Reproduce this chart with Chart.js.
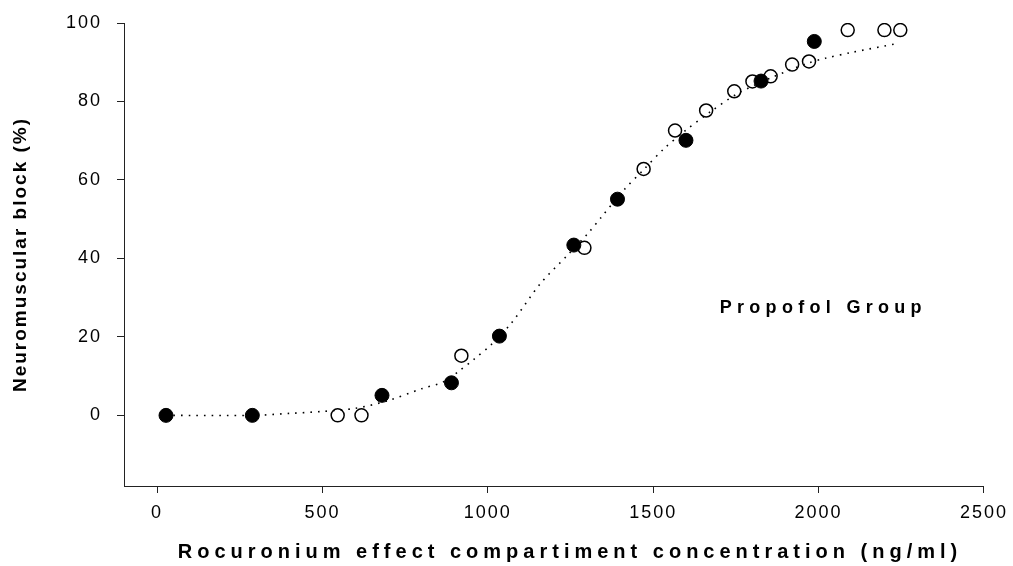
<!DOCTYPE html>
<html>
<head>
<meta charset="utf-8">
<script src="https://cdn.jsdelivr.net/npm/chart.js@4/dist/chart.umd.min.js"></script>
<style>
  html, body { margin: 0; padding: 0; background: #fff; }
  #c { display: block; }
</style>
</head>
<body>
<canvas id="c" width="1013" height="566"></canvas>
<script>
// Filled circles (measured block)
const filledX = [27, 288, 680, 890, 1035, 1260, 1392, 1599, 1826, 1987];
const filledY = [0, 0, 5.1, 8.3, 20.2, 43.4, 55.1, 70.1, 85.2, 95.3];
// Open circles
const openX = [546, 618, 920, 1292, 1471, 1566, 1660, 1745, 1800, 1855, 1920, 1971, 2088, 2199, 2247];
const openY = [0, 0, 15.2, 42.7, 62.8, 72.6, 77.7, 82.6, 85.1, 86.4, 89.4, 90.2, 98.2, 98.2, 98.2];
// Fitted dotted curve
const curveX = [27, 290, 400, 500, 600, 700, 800, 865, 913, 958, 1011, 1072, 1159, 1238, 1304, 1343, 1412, 1473, 1533, 1596, 1675, 1755, 1855, 1969, 2020, 2100, 2240];
const curveY = [0, 0, 0.5, 1.0, 1.8, 3.8, 6.8, 8.5, 11.3, 14.3, 18.1, 23.6, 33.6, 40.6, 46.5, 50.5, 57.5, 62.8, 68.0, 72.5, 77.5, 82.0, 86.0, 89.8, 91.0, 92.5, 94.8];
// Axes
const xTicks = [0, 500, 1000, 1500, 2000, 2500];
const yTicks = [0, 20, 40, 60, 80, 100];
const xTitle = 'Rocuronium effect compartiment concentration (ng/ml)';
const yTitle = 'Neuromuscular block (%)';
const groupLabel = 'Propofol Group';
const groupPos = [1701, 26];

const toPts = (xs, ys) => xs.map((x, i) => ({ x: x, y: ys[i] }));

const textPlugin = {
  id: 'textPlugin',
  beforeDraw(chart) {
    chart.ctx.letterSpacing = '2px';
  },
  afterDraw(chart) {
    const ctx = chart.ctx;
    const a = chart.chartArea;
    const xs = chart.scales.x, ys = chart.scales.y;
    ctx.save();
    ctx.fillStyle = '#000';
    ctx.font = 'bold 20px "Liberation Sans", Arial, sans-serif';
    ctx.letterSpacing = '5px';
    ctx.textAlign = 'center';
    ctx.textBaseline = 'alphabetic';
    ctx.fillText(xTitle, (a.left + a.right) / 2 + 16, 558);
    ctx.font = 'bold 18px "Liberation Sans", Arial, sans-serif';
    ctx.letterSpacing = '5.3px';
    ctx.textAlign = 'left';
    ctx.fillText(groupLabel, xs.getPixelForValue(groupPos[0]), ys.getPixelForValue(groupPos[1]));
    ctx.restore();
  }
};

const tickFont = { family: '"Liberation Sans", Arial, sans-serif', size: 18 };
const plain = (v) => String(v);

new Chart(document.getElementById('c'), {
  type: 'scatter',
  data: {
    datasets: [
      {
        label: 'filled',
        data: toPts(filledX, filledY),
        order: 0,
        pointRadius: 7,
        pointBackgroundColor: '#000',
        pointBorderColor: '#000',
        pointBorderWidth: 1
      },
      {
        label: 'open',
        data: toPts(openX, openY),
        order: 1,
        pointRadius: 6.5,
        pointBackgroundColor: 'rgba(255,255,255,0)',
        pointBorderColor: '#000',
        pointBorderWidth: 1.5
      },
      {
        label: 'fit',
        data: toPts(curveX, curveY),
        order: 2,
        showLine: true,
        pointRadius: 0,
        borderColor: '#000',
        borderWidth: 1.6,
        borderDash: [1.6, 6],
        tension: 0.3,
        fill: false
      }
    ]
  },
  options: {
    responsive: false,
    animation: false,
    events: [],
    layout: { padding: { top: 23, right: 28, left: 0, bottom: 0 } },
    plugins: { legend: { display: false }, tooltip: { enabled: false } },
    scales: {
      x: {
        type: 'linear',
        min: -100,
        max: 2500,
        afterBuildTicks: (s) => { s.ticks = xTicks.map(v => ({ value: v })); },
        afterFit: (s) => { s.height = 80; },
        grid: { drawOnChartArea: false, tickLength: 7, color: '#222', tickWidth: 1 },
        border: { display: true, color: '#222', width: 1 },
        ticks: { color: '#000', font: tickFont, padding: 9, maxRotation: 0, callback: plain },
        title: { display: false }
      },
      y: {
        type: 'linear',
        min: -18,
        max: 100,
        afterBuildTicks: (s) => { s.ticks = yTicks.map(v => ({ value: v })); },
        afterFit: (s) => { s.width = 124; s.paddingTop = 0; s.paddingBottom = 0; },
        grid: { drawOnChartArea: false, tickLength: 7, color: '#222', tickWidth: 1 },
        border: { display: true, color: '#222', width: 1 },
        ticks: { color: '#000', font: tickFont, padding: 15, callback: plain },
        title: {
          display: true,
          text: yTitle,
          color: '#000',
          font: { family: '"Liberation Sans", Arial, sans-serif', size: 19, weight: 'bold' },
          padding: { top: 9, bottom: 0 }
        }
      }
    }
  },
  plugins: [textPlugin]
});
</script>
</body>
</html>
